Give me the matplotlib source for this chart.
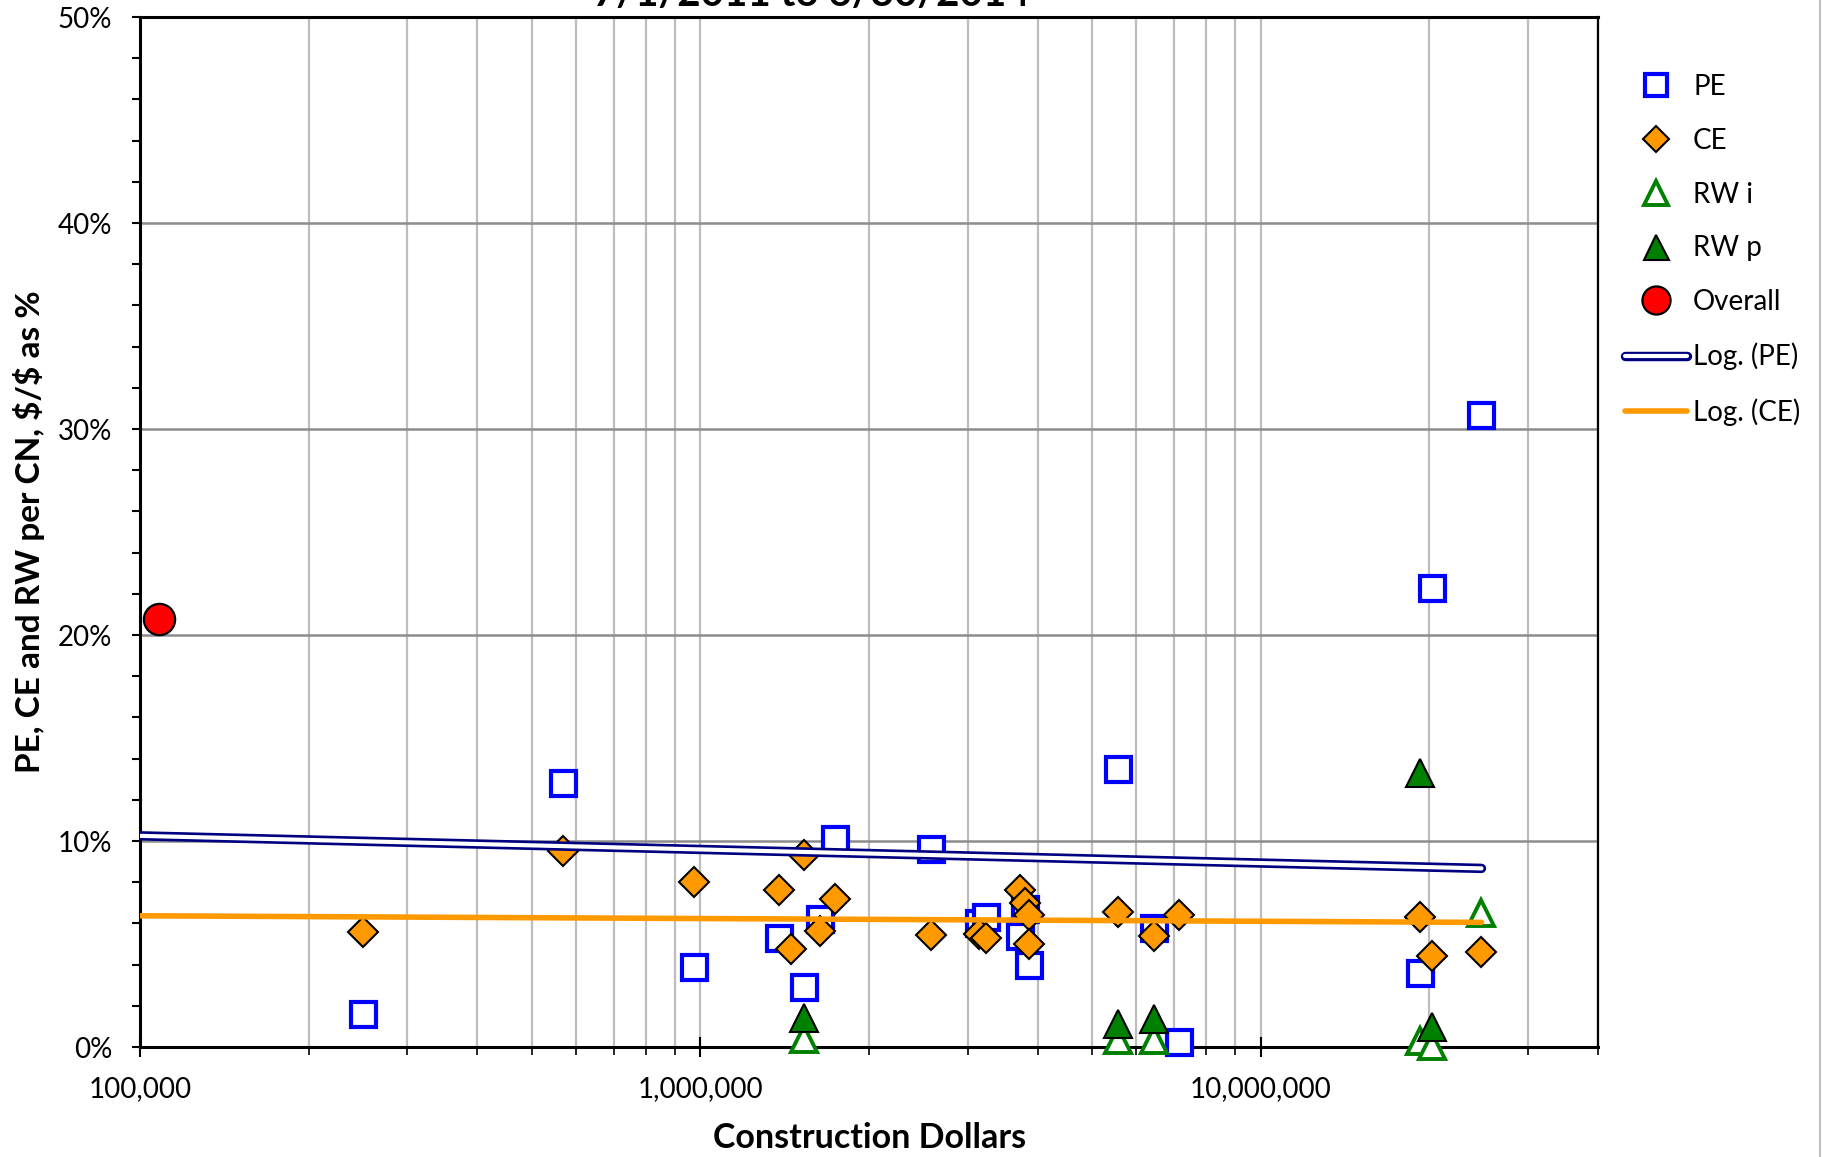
import matplotlib
matplotlib.use("Agg")
import matplotlib.pyplot as plt
from matplotlib.lines import Line2D
from matplotlib.ticker import LogLocator, MultipleLocator, FuncFormatter, NullFormatter, FixedLocator
from matplotlib.legend_handler import HandlerTuple

plt.rcParams['font.family'] = ['Lato', 'DejaVu Sans']

# PE, CE, RW per construction dollars (values in %)
pe_x = [250000, 569000, 976000, 1384000, 1531000, 1636000, 1740000, 2576000,
        3147000, 3238000, 3720000, 3792000, 3858000, 5557000, 6442000, 7140000,
        19210000, 20210000, 24780000]
pe_y = [1.6, 12.8, 3.9, 5.3, 2.9, 6.2, 10.1, 9.6,
        6.0, 6.3, 5.4, 6.7, 4.0, 13.5, 5.8, 0.26,
        3.6, 22.3, 30.7]

ce_x = [250000, 569000, 976000, 1384000, 1451000, 1531000, 1636000, 1740000,
        2576000, 3147000, 3238000, 3720000, 3792000, 3858000, 3858000,
        5557000, 6442000, 7140000, 19210000, 20210000, 24780000]
ce_y = [5.6, 9.5, 8.0, 7.6, 4.75, 9.3, 5.65, 7.2,
        5.45, 5.5, 5.3, 7.6, 7.0, 6.4, 5.0,
        6.55, 5.4, 6.4, 6.3, 4.4, 4.6]

rwi_x = [1531000, 5557000, 6442000, 19210000, 20210000, 24780000]
rwi_y = [0.4, 0.35, 0.35, 0.3, 0.05, 6.5]

rwp_x = [1531000, 5557000, 6442000, 19210000, 20210000]
rwp_y = [1.4, 1.1, 1.35, 13.3, 0.95]

overall_x = [108000]
overall_y = [20.8]

# logarithmic trendlines (straight on a log x axis), read at both ends
trend_x = [100000, 24780000]
pe_trend = [10.25, 8.67]
ce_trend = [6.37, 6.05]

x_ticks = [100000, 1000000, 10000000]

fig = plt.figure(figsize=(18.24, 11.57), dpi=100)
W, H = 1824, 1157
ax = fig.add_axes([140 / W, 1 - 1047 / H, (1598 - 140) / W, (1047 - 17) / H])
ax.set_xscale('log')
ax.set_xlim(1e5, 4e7)
ax.set_ylim(0, 50)

ax.set_axisbelow(True)
ax.xaxis.set_major_locator(FixedLocator(x_ticks))
ax.xaxis.set_minor_locator(LogLocator(base=10, subs=range(2, 10)))
ax.xaxis.set_major_formatter(FuncFormatter(lambda v, p: f'{v:,.0f}'))
ax.xaxis.set_minor_formatter(NullFormatter())
ax.yaxis.set_major_locator(MultipleLocator(10))
ax.yaxis.set_minor_locator(MultipleLocator(2))
ax.yaxis.set_major_formatter(FuncFormatter(lambda v, p: f'{v:.0f}%'))

ax.xaxis.grid(True, which='both', color='#bdbdbd', lw=1.6)
ax.yaxis.grid(True, which='major', color='#8c8c8c', lw=1.8)

ax.tick_params(axis='y', which='both', direction='out', length=6, width=1.5,
               labelsize=20, pad=14)
ax.tick_params(axis='x', which='major', direction='inout', length=14, width=1.5,
               labelsize=20, pad=14)
ax.tick_params(axis='x', which='minor', direction='out', length=6, width=1.2)
for side in ['left', 'bottom', 'top', 'right']:
    ax.spines[side].set_linewidth(2.2)
ax.spines['right'].set_linewidth(1.6)

pe, = ax.plot(pe_x, pe_y, ls='none', marker='s', ms=18, mfc='white',
              mec='#0000ff', mew=3.0, zorder=3, clip_on=False, label='PE')
ce, = ax.plot(ce_x, ce_y, ls='none', marker='D', ms=15, mfc='#ff9900',
              mec='black', mew=1.5, zorder=4, clip_on=False, label='CE')
rwi, = ax.plot(rwi_x, rwi_y, ls='none', marker='^', ms=19, mfc='white',
               mec='#008000', mew=2.8, zorder=5, clip_on=False, label='RW i')
rwp, = ax.plot(rwp_x, rwp_y, ls='none', marker='^', ms=20, mfc='#008000',
               mec='black', mew=1.5, zorder=6, clip_on=False, label='RW p')
ov, = ax.plot(overall_x, overall_y, ls='none', marker='o', ms=22.5, mfc='#ff0000',
              mec='black', mew=1.6, zorder=7, clip_on=False, label='Overall')

pe_outer, = ax.plot(trend_x, pe_trend, color='#000080', lw=6.8,
                    solid_capstyle='round', zorder=8)
pe_inner, = ax.plot(trend_x, pe_trend, color='white', lw=3.0,
                    solid_capstyle='round', zorder=9)
ce_line, = ax.plot(trend_x, ce_trend, color='#ff9900', lw=4.0,
                   solid_capstyle='round', zorder=10)

fig.legend([pe, ce, rwi, rwp, ov, (pe_outer, pe_inner), ce_line],
           ['PE', 'CE', 'RW i', 'RW p', 'Overall', 'Log. (PE)', 'Log. (CE)'],
           handler_map={tuple: HandlerTuple(ndivide=1)},
           loc='upper left', bbox_to_anchor=(1625 / W, 1 - 74 / H),
           frameon=False, fontsize=20, borderpad=0, borderaxespad=0,
           handlelength=2.25, handletextpad=0.2, labelspacing=1.0,
           markerscale=0.9)

fig.text(811 / W, 1 - 6 / H, '7/1/2011 to 6/30/2014', ha='center',
         va='baseline', fontsize=29, fontweight='bold')
fig.text(29 / W, 1 - 532 / H, r'PE, CE and RW per CN, \$/\$ as %', rotation=90,
         ha='center', va='center', fontsize=24, fontweight='bold')
fig.text(870 / W, 1 - 1138 / H, 'Construction Dollars', ha='center',
         va='center', fontsize=24.5, fontweight='bold')

fig.add_artist(Line2D([1820 / W, 1820 / W], [0, 1], color='#bfbfbf', lw=1.5,
                      transform=fig.transFigure))

fig.savefig('out.png', dpi=100)
